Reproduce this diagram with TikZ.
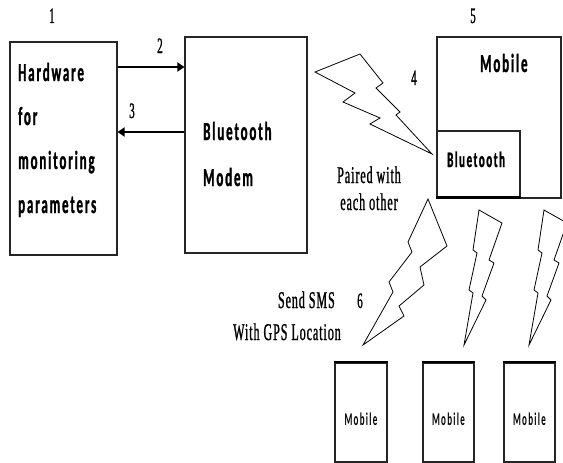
\documentclass[tikz,border=0pt]{standalone}
\usepackage{fontspec}
\usetikzlibrary{arrows.meta}
\newfontfamily\boxfont{Carlito}[FakeStretch=0.5,LetterSpace=7,FakeBold=1]
\newfontfamily\smallboxfont{Carlito}[FakeStretch=0.5,LetterSpace=7]
\newfontfamily\labfont{Liberation Serif}[FakeStretch=0.5,LetterSpace=4,FakeBold=1]
\begin{document}
\begin{tikzpicture}[x=1pt,y=-1pt,
  blk/.style={draw=black!85,line width=1.1pt,minimum width=#1,inner sep=0pt},
  boxtxt/.style={inner sep=0pt,anchor=base west,font=\boxfont\bfseries\fontsize{26}{26}\selectfont},
  lab/.style={inner sep=0pt,anchor=base,font=\labfont\fontsize{24}{24}\selectfont},
  num/.style={inner sep=0pt,anchor=base,font=\labfont\fontsize{22}{22}\selectfont},
  bolt/.style={draw=black,line width=0.8pt,line join=miter},
  bigarrow/.style={line width=2.6pt,-{Triangle[length=7pt,width=9pt]}}]
\clip (0,0) rectangle (563,463);
\fill[white] (0,0) rectangle (563,463);
% boxes
\node[blk=107pt,minimum height=213pt] (hw) at (63.5,148.5) {};
\node[blk=122pt,minimum height=216pt] (modem) at (246,145) {};
\node[blk=124pt,minimum height=161pt] (mob) at (499,117.5) {};
\node[blk=83pt,minimum height=66pt] (bt) at (478.5,164) {};
\draw[line width=2.6pt] (bt.south west) -- (bt.south east);
\node[blk=52pt,minimum height=99pt] (m1) at (361,412.5) {};
\node[blk=51pt,minimum height=99pt] (m2) at (448.5,412.5) {};
\node[blk=51pt,minimum height=99pt] (m3) at (529.5,412.5) {};
\foreach \m in {m1,m2,m3}{\draw[line width=2pt] (\m.north west) -- (\m.north east);}
% box texts
\node[boxtxt] (t1) at (18,81) {Hardware};
\node[boxtxt] (t2) at (18,125) {for};
\node[boxtxt] (t3) at (18,169) {monitoring};
\node[boxtxt] (t4) at (18,213) {parameters};
\node[boxtxt] (t5) at (203,140) {Bluetooth};
\node[boxtxt] (t6) at (203,186) {Modem};
\node[boxtxt] (t7) at (480,72) {Mobile};
\node[boxtxt,font=\boxfont\bfseries\fontsize{22}{22}\selectfont] (t8) at (447,167) {Bluetooth};
\foreach \m/\n in {m1/a,m2/b,m3/c}{
  \node[inner sep=0pt,anchor=base,font=\smallboxfont\bfseries\fontsize{18}{18}\selectfont] (mt\n) at (\m.center |- 0,425) {Mobile};}
% arrows
\coordinate (ya) at (0,67);
\coordinate (yb) at (0,132);
\draw[bigarrow] (hw.east |- ya) -- (modem.west |- ya);
\draw[bigarrow] (modem.west |- yb) -- (hw.east |- yb);
% labels
\node[num] (n1) at (52,23) {1};
\node[num] (n2) at (160,53) {2};
\node[num] (n3) at (132,118) {3};
\node[num] (n4) at (414,85) {4};
\node[num] (n5) at (473,23) {5};
\node[num] (n6) at (360,308) {6};
\node[lab] (p1) at (369,183) {Paired with};
\node[lab] (p2) at (369,210) {each other};
\node[lab,anchor=base east] (s1) at (335,308) {Send SMS};
\node[lab,anchor=base east] (s2) at (341,340) {With GPS Location};
% lightning bolts
\draw[bolt] (315,72) -- (360,54) -- (383,83) -- (376,88) -- (400,112) -- (396,115) -- (432,154) -- (370,124) -- (380,118) -- (343,102) -- (355,93) -- cycle;
\draw[bolt] (428,199) -- (447,246) -- (420,267) -- (424,285) -- (399,306) -- (404,316) -- (363,345) -- (393,292) -- (389,282) -- (412,252) -- (408,242) -- cycle;
\foreach \dx in {0,65}{
\draw[bolt,shift={(\dx,0)}] (479,210) -- (502,223) -- (489,260) -- (494,263) -- (482,296) -- (486,300) -- (464,345) -- (473,293) -- (469,290) -- (477,253) -- (473,250) -- cycle;}
\end{tikzpicture}
\end{document}
